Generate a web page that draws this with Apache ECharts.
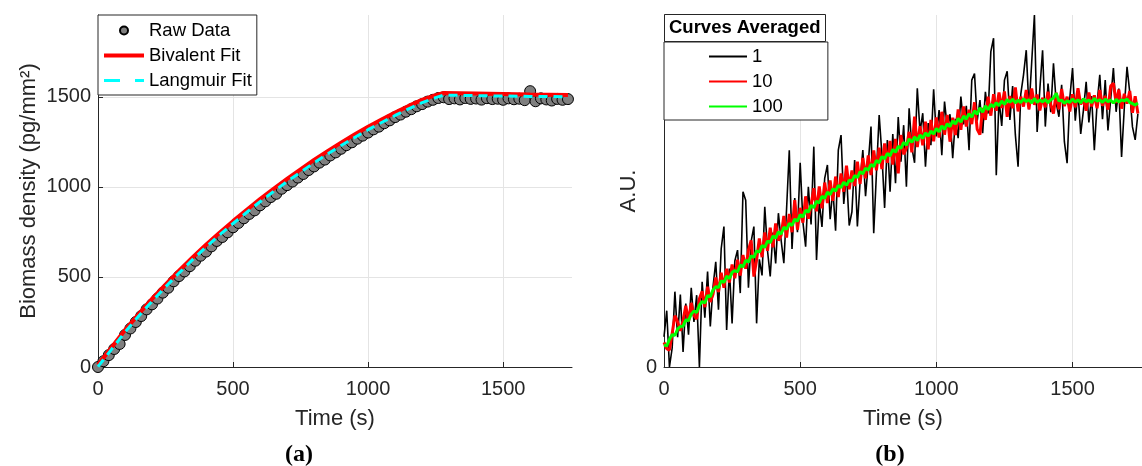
<!DOCTYPE html>
<html>
<head>
<meta charset="utf-8">
<script src="https://cdn.jsdelivr.net/npm/echarts@6/dist/echarts.min.js"></script>
<style>
  html, body { margin: 0; padding: 0; background: #fff; }
  #chart { width: 1142px; height: 466px; }
</style>
</head>
<body>
<div id="chart"></div>
<script>
// (a) biomass density, raw points every 20 s
const rawTimeStep = 20
const rawDensity = [
  0, 32, 66, 100, 128, 178, 214, 250, 283, 320,
  348, 380, 413, 440, 476, 505, 531, 560, 590, 618,
  641, 670, 700, 722, 748, 776, 800, 826, 850, 870,
  898, 920, 944, 962, 990, 1010, 1030, 1052, 1072, 1094,
  1114, 1135, 1152, 1175, 1192, 1212, 1232, 1248, 1268, 1285,
  1302, 1320, 1335, 1354, 1370, 1388, 1402, 1418, 1432, 1448,
  1460, 1474, 1484, 1494, 1498, 1488, 1492, 1486, 1494, 1489,
  1491, 1485, 1493, 1488, 1490, 1484, 1492, 1487, 1490, 1482,
  1532, 1476, 1492, 1486, 1480, 1489, 1484, 1488
]
const fitTime = [0, 50, 100, 150, 200, 250, 300, 350, 400, 450, 500, 550, 600, 650, 700, 750,
  800, 850, 900, 950, 1000, 1050, 1100, 1150, 1200, 1250, 1280, 1400, 1500, 1600, 1740]
const bivalentFit = [12, 108, 205, 293, 378, 458, 535, 608, 679, 746, 810, 872, 933, 990, 1045, 1098,
  1150, 1199, 1246, 1291, 1334, 1374, 1413, 1450, 1484, 1510, 1522, 1519, 1516, 1513, 1510]
const langmuirFit = [2, 98, 194, 282, 365, 445, 522, 596, 666, 734, 797, 858, 918, 975, 1030, 1082,
  1134, 1183, 1230, 1275, 1318, 1358, 1397, 1434, 1468, 1496, 1510, 1507, 1505, 1503, 1501]

// (b) curves averaged, samples every 10 s (A.U.)
const auTimeStep = 10
const avg1 = [
  8.6, 16.0, 0.0, 5.4, 21.4, 8.5, 20.6, 4.3, 18.0, 9.2,
  22.5, 12.8, 20.4, 0.0, 24.2, 14.0, 27.1, 11.5, 22.8, 29.9,
  16.3, 33.6, 39.9, 10.5, 28.0, 12.4, 30.1, 33.2, 21.0, 49.8,
  47.4, 22.5, 35.7, 39.9, 12.4, 30.6, 26.0, 45.5, 33.1, 25.7,
  38.2, 29.4, 43.7, 36.0, 29.5, 44.8, 61.6, 33.5, 48.0, 38.3,
  58.0, 41.2, 34.2, 51.2, 40.5, 62.6, 30.4, 47.0, 39.8, 53.6,
  57.4, 42.0, 50.5, 38.7, 61.6, 65.9, 46.3, 55.0, 40.2, 44.1,
  58.8, 39.9, 52.7, 61.6, 48.5, 57.9, 68.3, 38.0, 55.2, 71.6,
  60.4, 45.2, 64.5, 49.8, 66.2, 52.2, 71.0, 58.3, 68.7, 51.2,
  73.5, 62.4, 58.0, 79.2, 66.8, 72.1, 56.9, 69.3, 63.0, 78.9,
  65.5, 73.0, 60.2, 75.4, 68.0, 71.8, 59.3, 70.5, 65.0, 76.8,
  68.9, 74.2, 61.6, 81.5, 83.4, 70.0, 75.8, 66.4, 78.2, 72.0,
  89.6, 93.4, 54.5, 76.0, 68.5, 81.5, 84.0, 70.2, 79.8, 66.0,
  56.9, 77.5, 83.0, 90.0, 73.2, 86.5, 100, 66.8, 79.0, 90.0,
  68.3, 80.5, 72.4, 86.3, 75.0, 71.1, 80.2, 64.0, 57.9, 76.5,
  84.9, 70.0, 78.3, 66.2, 73.0, 81.0, 69.5, 77.0, 61.6, 74.8,
  83.0, 70.4, 81.5, 67.2, 76.0, 84.9, 72.5, 79.1, 59.7, 73.6,
  85.3, 78.0, 68.2, 64.5, 72.0
]
const avg10 = [
  7.0, 5.2, 4.8, 9.5, 14.6, 12.8, 10.3, 13.2, 17.4, 12.9,
  18.2, 14.6, 13.6, 19.4, 21.5, 17.0, 22.8, 18.5, 20.7, 25.4,
  21.3, 26.8, 22.5, 27.9, 24.0, 29.1, 25.2, 30.5, 26.0, 31.8,
  27.9, 33.2, 36.0, 25.7, 30.4, 36.5, 31.2, 38.2, 33.0, 39.6,
  34.0, 40.8, 35.9, 37.4, 42.9, 36.8, 43.5, 38.3, 47.4, 39.0,
  45.2, 41.0, 48.5, 42.1, 46.0, 50.8, 44.2, 51.3, 45.1, 52.4,
  46.6, 53.0, 47.2, 54.1, 48.3, 55.0, 49.8, 57.2, 50.5, 55.8,
  51.4, 58.3, 52.0, 59.4, 53.6, 60.1, 54.5, 61.5, 55.9, 62.3,
  56.2, 63.5, 58.0, 64.2, 57.5, 64.8, 55.0, 65.9, 60.4, 62.2,
  66.8, 61.0, 71.1, 62.5, 68.4, 63.0, 69.7, 61.8, 70.2, 64.1,
  70.9, 65.2, 72.5, 66.0, 71.6, 64.0, 70.8, 65.9, 73.2, 67.4,
  74.0, 68.3, 73.1, 69.0, 75.2, 67.5, 66.0, 73.6, 70.2, 76.8,
  71.4, 77.5, 72.8, 78.0, 73.6, 78.3, 71.1, 77.0, 73.5, 79.4,
  72.6, 76.8, 74.0, 78.7, 73.2, 79.1, 74.5, 77.4, 72.9, 76.5,
  73.8, 78.2, 74.6, 72.0, 77.9, 73.2, 79.0, 74.1, 76.8, 72.6,
  77.5, 73.8, 79.2, 74.6, 76.1, 72.8, 78.0, 74.0, 77.2, 73.5,
  78.7, 74.2, 77.0, 73.1, 79.8, 80.6, 75.0, 78.8, 73.4, 77.6,
  74.8, 78.4, 72.2, 76.9, 72.0
]
const avg100 = [
  6.3, 6.0, 7.9, 9.2, 9.0, 10.8, 11.5, 11.6, 13.4, 13.2,
  15.0, 15.9, 15.5, 17.6, 18.6, 18.2, 20.3, 20.0, 21.9, 22.8,
  22.6, 24.5, 24.0, 25.8, 25.1, 26.9, 27.4, 27.0, 29.0, 28.4,
  30.3, 29.8, 31.6, 31.1, 33.0, 32.6, 34.5, 34.0, 35.8, 35.3,
  37.2, 36.6, 38.4, 37.8, 39.7, 39.1, 40.8, 40.2, 42.0, 41.4,
  43.3, 42.6, 44.5, 44.0, 45.9, 45.3, 47.1, 46.6, 48.5, 47.9,
  49.7, 49.0, 50.6, 50.0, 51.6, 51.0, 52.5, 51.6, 53.1, 52.7,
  54.4, 53.8, 55.5, 54.9, 56.5, 55.9, 57.6, 56.9, 58.7, 58.0,
  59.8, 59.1, 60.7, 60.0, 61.8, 61.0, 62.7, 62.1, 63.8, 63.0,
  64.8, 63.8, 65.4, 64.3, 65.9, 65.0, 66.5, 65.6, 67.0, 66.2,
  67.8, 66.8, 68.5, 67.5, 69.1, 68.3, 69.9, 69.0, 70.6, 69.6,
  71.3, 70.4, 72.0, 71.0, 72.8, 71.8, 73.6, 72.4, 74.2, 73.1,
  74.6, 73.9, 75.1, 74.2, 75.6, 74.6, 76.0, 75.2, 76.1, 75.0,
  75.8, 75.1, 76.2, 75.4, 75.9, 75.0, 76.3, 75.2, 75.9, 75.3,
  76.0, 75.1, 75.9, 76.4, 77.8, 75.6, 75.8, 74.9, 75.6, 75.2,
  76.1, 75.3, 75.9, 75.0, 76.2, 75.4, 75.8, 75.1, 76.3, 75.5,
  75.9, 75.2, 76.1, 75.4, 75.8, 75.0, 76.0, 75.3, 75.9, 75.6,
  76.1, 75.2, 74.8, 74.4, 75.0
]

const timeTicks = [0, 500, 1000, 1500]
const densityTicks = [0, 500, 1000, 1500]
const auTicks = [0]

const FONT = '"Liberation Sans", Arial, sans-serif'
const AXIS_COLOR = '#262626'
const GRID_COLOR = '#e4e4e4'
const plain = v => String(v)
// line series get a marker drawn in their legend icon, hide it
const noMarker = { opacity: 0 }

function pairs(times, values) {
  return values.map((v, i) => [times[i], v])
}
function stepped(step, values) {
  return values.map((v, i) => [i * step, v])
}

function timeAxis(gridIndex) {
  return {
    type: 'value',
    gridIndex: gridIndex,
    min: 0,
    max: 1755,
    interval: 500,
    name: 'Time (s)',
    nameLocation: 'middle',
    nameGap: 41,
    nameTextStyle: { fontFamily: FONT, fontSize: 22, color: AXIS_COLOR },
    axisLine: { lineStyle: { color: AXIS_COLOR, width: 1 } },
    axisTick: { inside: true, length: 5, customValues: timeTicks, lineStyle: { color: AXIS_COLOR } },
    axisLabel: { margin: 12, customValues: timeTicks, formatter: plain, fontFamily: FONT, fontSize: 20, color: AXIS_COLOR },
    splitLine: { show: true, showMinLine: false, lineStyle: { color: GRID_COLOR } }
  }
}

const chart = echarts.init(document.getElementById('chart'))

chart.setOption({
  animation: false,
  backgroundColor: '#fff',
  title: [
    {
      text: 'Curves Averaged',
      left: 664,
      top: 14,
      padding: [4, 5, 4, 5],
      borderWidth: 1,
      borderColor: AXIS_COLOR,
      backgroundColor: '#fff',
      textStyle: { fontFamily: FONT, fontSize: 18.5, fontWeight: 'bold', color: '#000', lineHeight: 20 }
    },
    {
      text: '(a)',
      left: 294,
      top: 438,
      textAlign: 'center',
      textStyle: { fontFamily: '"Liberation Serif", "DejaVu Serif", serif', fontSize: 24, fontWeight: 'bold', color: '#000' }
    },
    {
      text: '(b)',
      left: 885,
      top: 438,
      textAlign: 'center',
      textStyle: { fontFamily: '"Liberation Serif", "DejaVu Serif", serif', fontSize: 24, fontWeight: 'bold', color: '#000' }
    }
  ],
  legend: [
    {
      data: [
        { name: 'Raw Data' },
        { name: 'Bivalent Fit', itemStyle: noMarker, lineStyle: { width: 4 } },
        { name: 'Langmuir Fit', itemStyle: noMarker, lineStyle: { width: 3, type: [16, 15] } }
      ],
      orient: 'vertical',
      left: 98,
      top: 15,
      padding: [6, 5, 5, 4],
      itemWidth: 40,
      itemHeight: 8,
      itemGap: 6,
      borderWidth: 1,
      borderColor: AXIS_COLOR,
      backgroundColor: '#fff',
      textStyle: { fontFamily: FONT, fontSize: 18.5, color: '#000', lineHeight: 19 }
    },
    {
      data: [
        { name: '1', itemStyle: noMarker, lineStyle: { width: 2 } },
        { name: '10', itemStyle: noMarker, lineStyle: { width: 2 } },
        { name: '100', itemStyle: noMarker, lineStyle: { width: 2 } }
      ],
      orient: 'vertical',
      left: 664,
      top: 42,
      padding: [5, 45, 4, 44],
      itemWidth: 38,
      itemHeight: 10,
      itemGap: 6,
      borderWidth: 1,
      borderColor: AXIS_COLOR,
      backgroundColor: '#fff',
      textStyle: { fontFamily: FONT, fontSize: 18.5, color: '#000', lineHeight: 19 }
    }
  ],
  grid: [
    { left: 98, top: 15, width: 474, height: 352 },
    { left: 664, top: 15, width: 484, height: 352 }
  ],
  xAxis: [timeAxis(0), timeAxis(1)],
  yAxis: [
    {
      type: 'value',
      gridIndex: 0,
      min: 0,
      max: 1955,
      interval: 500,
      name: 'Biomass density (pg/mm²)',
      nameLocation: 'middle',
      nameGap: 58,
      nameTextStyle: { fontFamily: FONT, fontSize: 22, color: AXIS_COLOR },
      axisLine: { show: true, lineStyle: { color: AXIS_COLOR, width: 1 } },
      axisTick: { show: true, inside: true, length: 5, customValues: densityTicks, lineStyle: { color: AXIS_COLOR } },
      axisLabel: { margin: 7, customValues: densityTicks, formatter: plain, fontFamily: FONT, fontSize: 20, color: AXIS_COLOR },
      splitLine: { show: true, showMinLine: false, lineStyle: { color: GRID_COLOR } }
    },
    {
      type: 'value',
      gridIndex: 1,
      min: 0,
      max: 100,
      interval: 100,
      name: 'A.U.',
      nameLocation: 'middle',
      nameGap: 24,
      nameTextStyle: { fontFamily: FONT, fontSize: 22, color: AXIS_COLOR },
      axisLine: { show: true, lineStyle: { color: AXIS_COLOR, width: 1 } },
      axisTick: { show: false },
      axisLabel: { margin: 7, customValues: auTicks, formatter: plain, fontFamily: FONT, fontSize: 20, color: AXIS_COLOR },
      splitLine: { show: false }
    }
  ],
  series: [
    {
      name: 'Raw Data',
      type: 'scatter',
      xAxisIndex: 0,
      yAxisIndex: 0,
      symbol: 'circle',
      symbolSize: 11,
      itemStyle: { color: '#7f7f7f', borderColor: '#000', borderWidth: 1, opacity: 1 },
      data: stepped(rawTimeStep, rawDensity),
      z: 2
    },
    {
      name: 'Bivalent Fit',
      type: 'line',
      xAxisIndex: 0,
      yAxisIndex: 0,
      symbol: 'none',
      lineStyle: { color: '#ff0000', width: 4 },
      itemStyle: { color: '#ff0000' },
      data: pairs(fitTime, bivalentFit),
      z: 3
    },
    {
      name: 'Langmuir Fit',
      type: 'line',
      xAxisIndex: 0,
      yAxisIndex: 0,
      symbol: 'none',
      lineStyle: { color: '#00ffff', width: 3, type: [9, 6] },
      itemStyle: { color: '#00ffff' },
      data: pairs(fitTime, langmuirFit),
      z: 4
    },
    {
      name: '1',
      type: 'line',
      xAxisIndex: 1,
      yAxisIndex: 1,
      symbol: 'none',
      lineStyle: { color: '#000', width: 1.6 },
      itemStyle: { color: '#000' },
      data: stepped(auTimeStep, avg1),
      z: 2
    },
    {
      name: '10',
      type: 'line',
      xAxisIndex: 1,
      yAxisIndex: 1,
      symbol: 'none',
      lineStyle: { color: '#ff0000', width: 3 },
      itemStyle: { color: '#ff0000' },
      data: stepped(auTimeStep, avg10),
      z: 3
    },
    {
      name: '100',
      type: 'line',
      xAxisIndex: 1,
      yAxisIndex: 1,
      symbol: 'none',
      lineStyle: { color: '#00ff00', width: 3 },
      itemStyle: { color: '#00ff00' },
      data: stepped(auTimeStep, avg100),
      z: 4
    }
  ]
})
</script>
</body>
</html>
